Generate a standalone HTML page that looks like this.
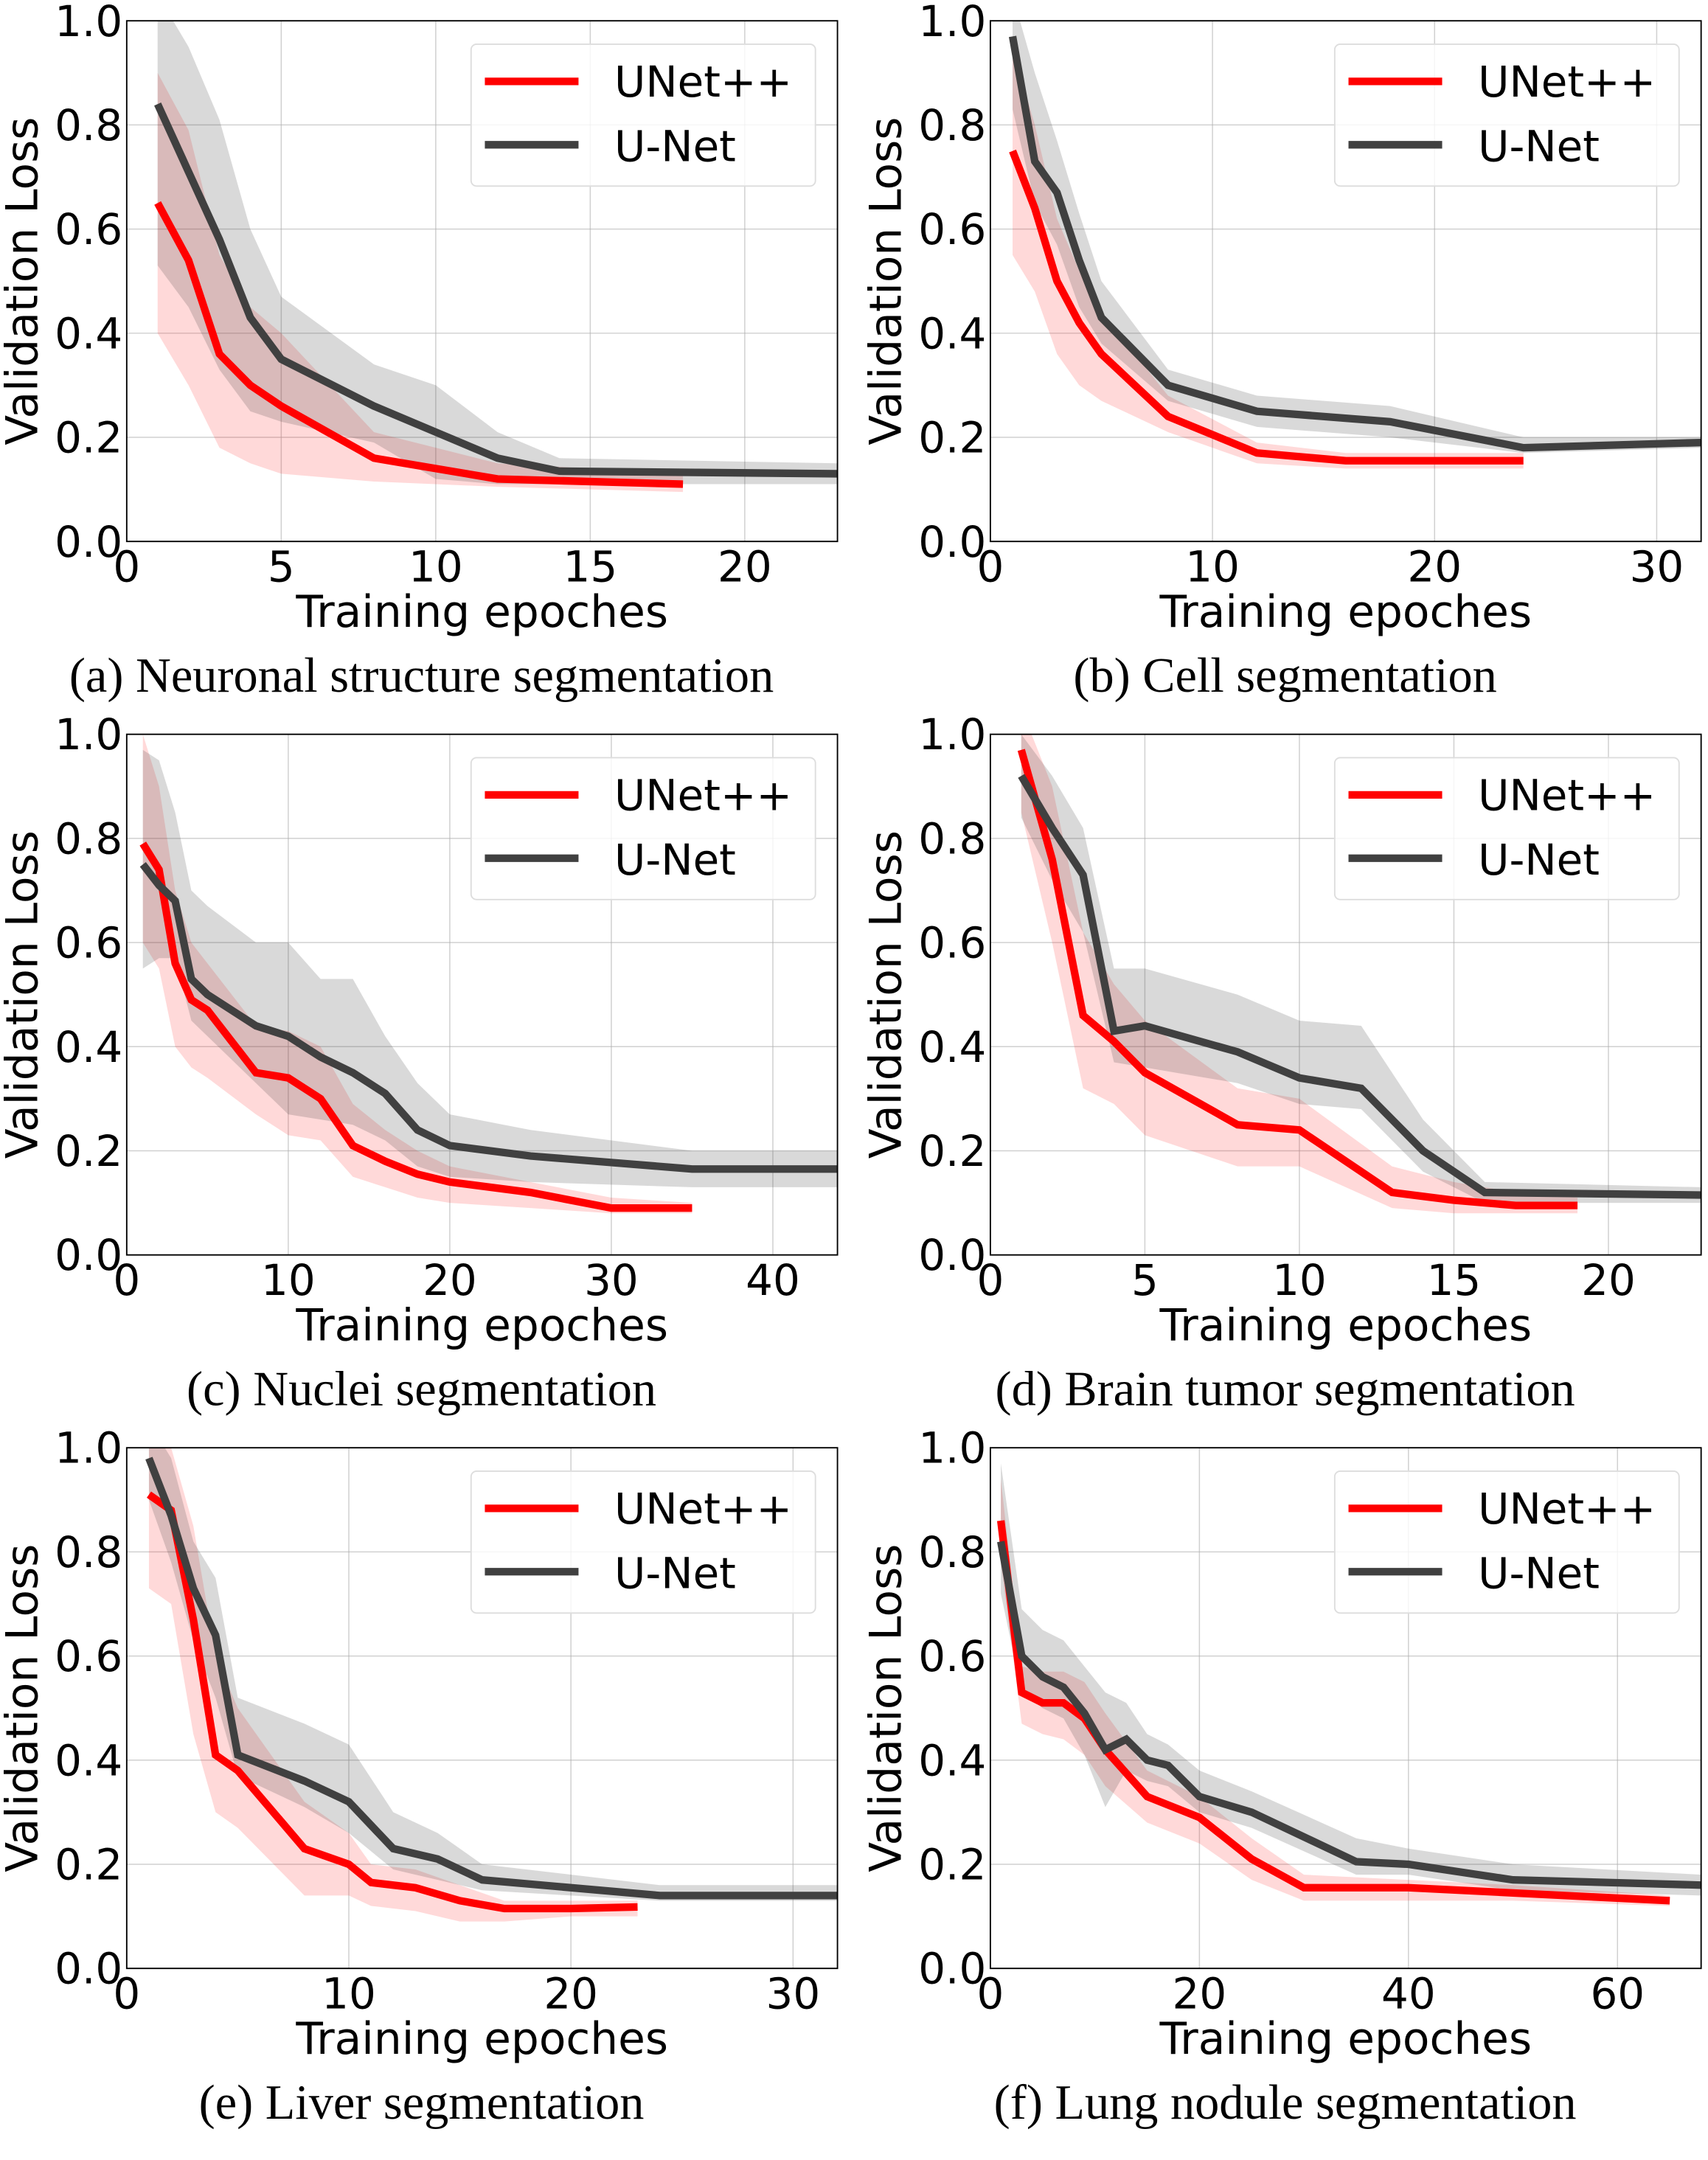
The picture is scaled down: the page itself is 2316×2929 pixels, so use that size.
<!DOCTYPE html>
<html><head><meta charset="utf-8"><style>
html,body{margin:0;padding:0;background:#fff;}
svg{display:block;}
</style></head><body>
<svg id="fig" width="2316" height="2929" viewBox="0 0 1240 1568" xmlns="http://www.w3.org/2000/svg"></svg>
<script>
// ---- data ----
const panelTitles=["(a) Neuronal structure segmentation","(b) Cell segmentation","(c) Nuclei segmentation","(d) Brain tumor segmentation","(e) Liver segmentation","(f) Lung nodule segmentation"];
const xMax=[23,32,44,23,32,68];
const xTicks=[[0,5,10,15,20],[0,10,20,30],[0,10,20,30,40],[0,5,10,15,20],[0,10,20,30],[0,20,40,60]];
const yTicks=[0,0.2,0.4,0.6,0.8,1.0];
const yTickLabels=["0.0","0.2","0.4","0.6","0.8","1.0"];
// UNet++
const upX=[[1,2,3,4,5,8,12,18],[1,2,3,4,5,8,12,16,24],[1,2,3,4,5,8,10,12,14,16,18,20,25,30,35],[1,2,3,4,5,8,10,13,15,17,19],[1,2,3,4,5,8,10,11,13,15,17,20,23],[1,3,5,7,9,11,15,20,25,30,40,50,65]];
const upY=[[.65,.54,.36,.30,.26,.16,.12,.11],[.75,.64,.50,.42,.36,.24,.17,.155,.155],[.79,.74,.56,.49,.47,.35,.34,.30,.21,.18,.155,.14,.12,.09,.09],[.97,.76,.46,.41,.35,.25,.24,.12,.105,.095,.095],[.91,.88,.67,.41,.38,.23,.20,.165,.155,.13,.115,.115,.118],[.86,.53,.51,.51,.48,.42,.33,.29,.21,.155,.155,.145,.13]];
const upLo=[[.40,.30,.18,.15,.13,.115,.105,.095],[.55,.48,.36,.30,.27,.21,.15,.14,.14],[.60,.55,.40,.36,.34,.27,.23,.22,.15,.13,.11,.10,.09,.08,.08],[.85,.60,.32,.29,.23,.17,.17,.09,.08,.08,.08],[.73,.70,.45,.30,.27,.14,.14,.12,.11,.09,.09,.10,.10],[.78,.47,.45,.44,.41,.35,.28,.24,.17,.13,.13,.13,.12]];
const upHi=[[.90,.79,.55,.45,.40,.21,.15,.13],[.95,.80,.62,.52,.44,.28,.19,.17,.17],[1.0,.90,.70,.60,.56,.44,.43,.40,.29,.24,.20,.17,.14,.11,.10],[1.05,.90,.62,.52,.45,.32,.30,.17,.14,.12,.11],[1.05,1.0,.85,.60,.50,.32,.26,.20,.19,.16,.13,.13,.13],[.94,.58,.57,.57,.55,.49,.38,.33,.25,.18,.17,.16,.14]];
// U-Net
const unX=[[1,2,3,4,5,8,10,12,14,23],[1,2,3,4,5,8,12,18,24,32],[1,2,3,4,5,8,10,12,14,16,18,20,25,35,44],[1,2,3,4,5,8,10,12,14,16,23],[1,2,3,4,5,8,10,12,14,16,24,32],[1,3,5,7,9,11,13,15,17,20,25,35,40,50,68]];
const unY=[[.84,.71,.58,.43,.35,.26,.21,.16,.135,.13],[.97,.73,.67,.54,.43,.30,.25,.23,.18,.19],[.75,.71,.68,.53,.50,.44,.42,.38,.35,.31,.24,.21,.19,.165,.165],[.92,.82,.73,.43,.44,.39,.34,.32,.20,.12,.115],[.98,.87,.73,.64,.41,.36,.32,.23,.21,.17,.14,.14],[.82,.60,.56,.54,.49,.42,.44,.40,.39,.33,.30,.205,.20,.17,.16]];
const unLo=[[.53,.45,.33,.25,.23,.19,.12,.11,.11,.11],[.83,.65,.57,.45,.38,.27,.22,.20,.17,.18],[.55,.57,.57,.45,.42,.33,.27,.26,.25,.22,.17,.15,.14,.13,.13],[.84,.72,.62,.37,.36,.33,.29,.28,.16,.10,.10],[.90,.78,.63,.52,.37,.31,.26,.19,.17,.15,.13,.13],[.72,.53,.50,.48,.41,.31,.38,.36,.35,.30,.27,.18,.18,.15,.14]];
const unHi=[[1.05,.95,.81,.60,.47,.34,.30,.21,.16,.15],[1.05,.90,.77,.63,.50,.33,.28,.26,.20,.20],[.97,.95,.85,.70,.67,.60,.60,.53,.53,.42,.33,.27,.24,.20,.20],[1.0,.92,.82,.55,.55,.50,.45,.44,.26,.14,.13],[1.05,.98,.82,.75,.52,.47,.43,.30,.26,.20,.16,.16],[.97,.69,.65,.63,.58,.53,.51,.45,.43,.38,.34,.25,.23,.20,.18]];

const NS="http://www.w3.org/2000/svg";
const svg=document.getElementById('fig');
function mk(tag,attrs,parent){const e=document.createElementNS(NS,tag);for(const k in attrs)e.setAttribute(k,attrs[k]);(parent||svg).appendChild(e);return e;}
const SANS='"DejaVu Sans","Liberation Sans",sans-serif';
const SERIF='"Liberation Serif",serif';

for(let p=0;p<6;p++){
  const col=p%2,row=Math.floor(p/2);
  const L=col?719:92,R=L+516,T=15+row*518,B=T+378;
  const xs=v=>L+v/xMax[p]*(R-L);
  const ys=v=>B-v*(B-T);
  const g=mk('g',{});
  
  
  const cid='clip'+p;
  const cp=mk('clipPath',{id:cid},g);mk('rect',{x:L,y:T,width:R-L,height:B-T},cp);
  xTicks[p].forEach(t=>{const l=mk('line',{x1:xs(t),x2:xs(t),y1:T,y2:B,stroke:'#b0b0b0','stroke-width':0.8,'stroke-opacity':0.6},g);});
  yTicks.forEach(t=>{const l=mk('line',{x1:L,x2:R,y1:ys(t),y2:ys(t),stroke:'#b0b0b0','stroke-width':0.8,'stroke-opacity':0.6},g);});
  const cg=mk('g',{'clip-path':'url(#'+cid+')'},g);
  function band(X,Lo,Hi,fill,op,name){
    let d='M'+X.map((x,i)=>xs(x)+','+ys(Hi[i])).join('L');
    for(let i=X.length-1;i>=0;i--)d+='L'+xs(X[i])+','+ys(Lo[i]);
    const e=mk('path',{d:d+'Z',fill:fill,'fill-opacity':op},cg);
    
  }
  function line(X,Y,stroke,name){
    const e=mk('polyline',{points:X.map((x,i)=>xs(x)+','+ys(Y[i])).join(' '),fill:'none',stroke:stroke,'stroke-width':5.5,'stroke-linejoin':'miter'},cg);
    
  }
  band(upX[p],upLo[p],upHi[p],'#ff0000',0.15,'unetpp-band');
  band(unX[p],unLo[p],unHi[p],'#404040',0.2,'unet-band');
  line(upX[p],upY[p],'#ff0000','unetpp-line');
  line(unX[p],unY[p],'#404040','unet-line');
  const fr=mk('rect',{x:L,y:T,width:R-L,height:B-T,fill:'none',stroke:'#000','stroke-width':1},g);
  
  xTicks[p].forEach(t=>{const e=mk('text',{x:xs(t),y:B+29,'font-size':31,'font-family':SANS,'text-anchor':'middle'},g);e.textContent=t;});
  yTicks.forEach((t,i)=>{const e=mk('text',{x:L-3,y:ys(t)+11,'font-size':31,'font-family':SANS,'text-anchor':'end'},g);e.textContent=yTickLabels[i];});
  const yl=mk('text',{x:0,y:0,'font-size':32,'font-family':SANS,'text-anchor':'middle',transform:'translate('+(L-65)+','+(T+189)+') rotate(-90)'},g);
  yl.textContent='Validation Loss';
  const xl=mk('text',{x:L+258,y:B+62,'font-size':32,'font-family':SANS,'text-anchor':'middle'},g);
  xl.textContent='Training epoches';
  const cap=mk('text',{x:L+214,y:B+109,'font-size':35.5,'font-family':SERIF,'text-anchor':'middle'},g);
  cap.textContent=panelTitles[p];
  const lg=mk('g',{},g);
  mk('rect',{x:L+250,y:T+17,width:250,height:103,rx:4,fill:'#fff','fill-opacity':0.8,stroke:'#ddd','stroke-width':1},lg);
  mk('line',{x1:L+260,x2:L+328,y1:T+44,y2:T+44,stroke:'#ff0000','stroke-width':5.5},lg);
  mk('line',{x1:L+260,x2:L+328,y1:T+90,y2:T+90,stroke:'#404040','stroke-width':5.5},lg);
  const t1=mk('text',{x:L+354,y:T+55,'font-size':31,'font-family':SANS},lg);t1.textContent='UNet++';
  const t2=mk('text',{x:L+354,y:T+102,'font-size':31,'font-family':SANS},lg);t2.textContent='U-Net';
}
</script>
</body></html>
